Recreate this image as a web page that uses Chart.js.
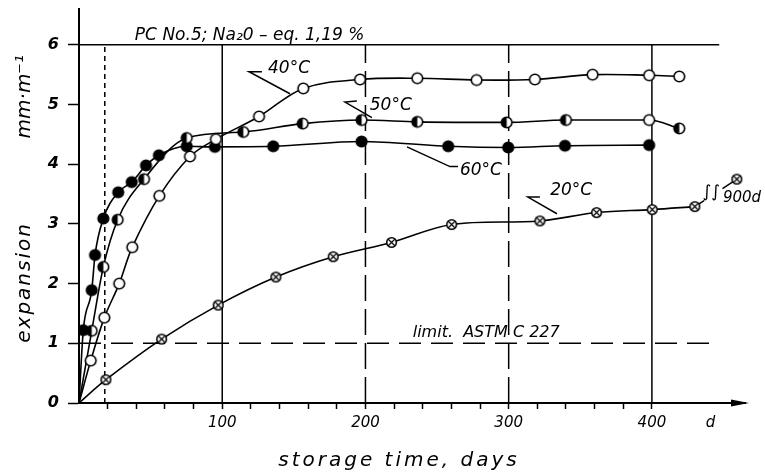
<!DOCTYPE html>
<html><head><meta charset="utf-8">
<script src="https://cdn.jsdelivr.net/npm/chart.js@4/dist/chart.umd.min.js"></script>
<style>html,body{margin:0;padding:0;background:#fff}</style>
</head><body>
<canvas id="c" width="765" height="476"></canvas>
<script>
// ---- data (days of storage, expansion in mm/m) ----
const days40 = [8.2, 17.7, 28.1, 37.2, 56.1, 77.5, 95.6, 125.7, 156.6, 196.2, 236.2, 277.6, 318.3, 358.6, 398.1, 419.1];
const exp40  = [0.71, 1.43, 2.00, 2.61, 3.47, 4.13, 4.42, 4.80, 5.27, 5.42, 5.44, 5.41, 5.42, 5.50, 5.49, 5.47];
const days50 = [8.9, 17.0, 27.0, 45.4, 75.2, 114.7, 156.2, 197.3, 236.2, 298.6, 340.0, 398.1, 419.1];
const exp50  = [1.21, 2.28, 3.07, 3.75, 4.44, 4.54, 4.68, 4.74, 4.71, 4.70, 4.74, 4.74, 4.60];
const days60 = [3.0, 8.9, 11.2, 17.0, 27.4, 36.8, 46.8, 55.8, 75.2, 94.9, 135.6, 197.3, 257.8, 299.7, 339.3, 398.1];
const exp60  = [1.22, 1.89, 2.48, 3.09, 3.53, 3.70, 3.98, 4.15, 4.30, 4.29, 4.30, 4.38, 4.30, 4.28, 4.31, 4.32];
const days20 = [18.8, 57.7, 97.2, 137.5, 177.5, 218.2, 260.2, 321.8, 361.4, 400.2, 430.0];
const exp20  = [0.39, 1.07, 1.64, 2.11, 2.45, 2.69, 2.99, 3.05, 3.19, 3.24, 3.29];
const days20late = [430.0, 459.3];   // last measured point -> 900 d value (axis break)
const exp20late  = [3.29, 3.75];

const limitASTM = 1;          // limit ASTM C 227
const topLineValue = 6;
const guideDays = [18, 100, 200, 300, 400];

const yTickValues = [0, 1, 2, 3, 4, 5, 6];
const xTickValues = [0, 20, 40, 60, 80, 100, 120, 140, 160, 180, 200, 220, 240, 260, 280, 300, 320, 340, 360, 380, 400, 441];
const xLabelValues = [100, 200, 300, 400, 441];
const xLabelTexts  = ['100', '200', '300', '400', 'd'];

const seriesNames = ['40°C', '50°C', '60°C', '20°C'];

// ---- marker images ----
function makeMarker(kind) {
  const s = 15, c = document.createElement('canvas');
  c.width = s; c.height = s;
  const g = c.getContext('2d');
  const cx = s / 2, cy = s / 2;
  const r = kind === 'cross' ? 4.8 : 5.3;
  g.lineWidth = 1.6; g.strokeStyle = '#000';
  g.beginPath(); g.arc(cx, cy, r, 0, Math.PI * 2);
  g.fillStyle = kind === 'filled' ? '#000' : '#fff'; g.fill();
  if (kind === 'half') {
    g.beginPath(); g.arc(cx, cy, r, Math.PI / 2, Math.PI * 1.5); g.closePath();
    g.fillStyle = '#000'; g.fill();
  }
  g.beginPath(); g.arc(cx, cy, r, 0, Math.PI * 2); g.stroke();
  if (kind === 'cross') {
    const k = r * 0.68; g.lineWidth = 1.2;
    g.beginPath();
    g.moveTo(cx - k, cy - k); g.lineTo(cx + k, cy + k);
    g.moveTo(cx + k, cy - k); g.lineTo(cx - k, cy + k);
    g.stroke();
  }
  return c;
}
const M = { open: makeMarker('open'), filled: makeMarker('filled'), half: makeMarker('half'), cross: makeMarker('cross') };

const toPts = (ds, vs) => [{x: 0, y: 0}].concat(ds.map((d, i) => ({x: d, y: vs[i]})));

function curve(label, ds, vs, styleFor, smooth) {
  const o = {
    label, data: toPts(ds, vs),
    borderColor: '#000', borderWidth: 1.6, fill: false,
    pointRadius: c => c.dataIndex === 0 ? 0 : 6,
    pointStyle: c => M[styleFor(c.dataIndex)],
  };
  if (smooth === 'tension') o.tension = 0.35; else o.cubicInterpolationMode = 'monotone';
  return o;
}
function refLine(pts, dash, width) {
  return { label: '', data: pts, borderColor: '#000', borderWidth: width || 1.5, borderDash: dash || [], pointRadius: 0, tension: 0, fill: false };
}

const datasets = [
  curve(seriesNames[0], days40, exp40, () => 'open', 'tension'),
  curve(seriesNames[1], days50, exp50, i => i === 12 ? 'open' : 'half'),
  curve(seriesNames[2], days60, exp60, () => 'filled'),
  curve(seriesNames[3], days20, exp20, () => 'cross', 'tension'),
  { label: '20°C (900 d)', data: days20late.map((d, i) => ({x: d, y: exp20late[i]})),
    borderColor: '#000', borderWidth: 1.5, borderDash: [11, 22, 14], tension: 0,
    pointRadius: c => c.dataIndex === 0 ? 0 : 6, pointStyle: M.cross },
  refLine([{x: 0, y: topLineValue}, {x: 447, y: topLineValue}], [], 1.6),
  refLine([{x: 0, y: limitASTM}, {x: 444, y: limitASTM}], [22, 10], 1.5),
  refLine([{x: guideDays[0], y: 0}, {x: guideDays[0], y: topLineValue}], [5, 4], 1.5),
  refLine([{x: guideDays[1], y: 0}, {x: guideDays[1], y: topLineValue}], [], 1.5),
  refLine([{x: guideDays[2], y: 0}, {x: guideDays[2], y: topLineValue}], [26, 8], 1.5),
  refLine([{x: guideDays[3], y: 0}, {x: guideDays[3], y: topLineValue}], [26, 8], 1.5),
  refLine([{x: guideDays[4], y: 0}, {x: guideDays[4], y: topLineValue}], [], 1.5),
];

// ---- annotations (data coordinates) ----
const FONT = '"DejaVu Sans"';
const annTexts = [
  { text: '40°C', d: 132, v: 5.60, font: 'italic 17px ' + FONT },
  { text: '50°C', d: 203, v: 4.99, font: 'italic 17px ' + FONT },
  { text: '60°C', d: 266, v: 3.90, font: 'italic 17px ' + FONT },
  { text: '20°C', d: 329, v: 3.55, font: 'italic 17px ' + FONT },
  { text: 'PC No.5; Na₂0 – eq. 1,19 %', d: 39, v: 6.16, font: 'italic 17px ' + FONT },
  { text: 'limit.  ASTM C 227', d: 233, v: 1.17, font: 'italic 16px ' + FONT },
  { text: '900d', d: 449.6, v: 3.44, font: 'italic 15px ' + FONT },
];
const leaders = [
  [[127.7, 5.55], [118.7, 5.55], [147.3, 5.18]],
  [[194, 5.06], [185.7, 5.04], [204.5, 4.78]],
  [[229, 4.29], [259, 3.96], [264.6, 3.96]],
  [[321.8, 3.45], [313.4, 3.45], [333.7, 3.17]],
];

const drawPlugin = {
  id: 'drawExtras',
  beforeDraw(chart) {
    const c = chart.ctx; c.save(); c.fillStyle = '#fff'; c.fillRect(0, 0, chart.width, chart.height); c.restore();
  },
  afterDraw(chart) {
    const {ctx, scales: {x, y}, chartArea: ca} = chart;
    const P = (d, v) => [x.getPixelForValue(d), y.getPixelForValue(v)];
    ctx.save();
    ctx.strokeStyle = '#000'; ctx.fillStyle = '#000'; ctx.lineWidth = 1.5;
    leaders.forEach(pts => {
      ctx.beginPath();
      pts.forEach(([d, v], i) => { const [px, py] = P(d, v); i ? ctx.lineTo(px, py) : ctx.moveTo(px, py); });
      ctx.stroke();
    });
    ctx.textBaseline = 'middle'; ctx.textAlign = 'left';
    annTexts.forEach(t => { ctx.font = t.font; const [px, py] = P(t.d, t.v); ctx.fillText(t.text, px, py); });
    // axis break symbol
    ctx.font = 'italic 17px ' + FONT;
    const [bx, by] = P(441.5, 3.52);
    ctx.textAlign = 'center';
    ctx.fillText('∫∫', bx, by);
    // x axis arrow head
    const [ax, ay] = P(x.max, 0);
    ctx.beginPath(); ctx.moveTo(ax + 4, ay); ctx.lineTo(ax - 14, ay - 3.5); ctx.lineTo(ax - 14, ay + 3.5); ctx.closePath(); ctx.fill();
    // axis titles
    ctx.font = 'italic 20px ' + FONT;
    ctx.letterSpacing = '3px';
    ctx.textAlign = 'center';
    ctx.fillText('storage time, days', ca.left + 320, ca.bottom + 58);
    ctx.letterSpacing = '2px';
    ctx.save();
    ctx.translate(ca.left - 54, y.getPixelForValue(2.02));
    ctx.rotate(-Math.PI / 2);
    ctx.fillText('expansion', 0, 0);
    ctx.restore();
    ctx.letterSpacing = '0px';
    ctx.save();
    ctx.translate(ca.left - 54, y.getPixelForValue(5.13));
    ctx.rotate(-Math.PI / 2);
    ctx.fillText('mm·m⁻¹', 0, 0);
    ctx.restore();
    ctx.restore();
  }
};

new Chart(document.getElementById('c'), {
  type: 'line',
  data: { datasets },
  options: {
    responsive: false, animation: false, events: [],
    layout: { padding: { top: 9, right: 20, left: 0, bottom: 0 } },
    plugins: { legend: { display: false }, tooltip: { enabled: false } },
    scales: {
      x: {
        type: 'linear', min: 0, max: 465,
        afterBuildTicks: s => { s.ticks = xTickValues.map(v => ({value: v})); },
        afterFit: s => { s.height = 73; s.paddingLeft = 0; s.paddingRight = 0; },
        grid: { drawOnChartArea: false, drawTicks: true, tickLength: 6, tickWidth: 1.5,
                tickColor: c => (c.tick && c.tick.value > 0 && c.tick.value <= 400) ? '#000' : 'rgba(0,0,0,0)' },
        border: { display: true, color: '#000', width: 2 },
        ticks: {
          autoSkip: false, maxRotation: 0, padding: 5, color: '#000',
          font: { family: 'DejaVu Sans', size: 15, style: 'italic' },
          callback: v => { const i = xLabelValues.indexOf(v); return i >= 0 ? xLabelTexts[i] : ''; }
        }
      },
      y: {
        type: 'linear', min: 0, max: 6.6,
        afterBuildTicks: s => { s.ticks = yTickValues.map(v => ({value: v})); },
        afterFit: s => { s.width = 79; s.paddingTop = 0; s.paddingBottom = 0; },
        grid: { drawOnChartArea: false, drawTicks: true, tickLength: 11, tickWidth: 1.5, tickColor: '#000' },
        border: { display: true, color: '#000', width: 2 },
        ticks: {
          padding: 9, color: '#000',
          font: { family: 'DejaVu Sans', size: 16, style: 'italic', weight: 'bold' },
          callback: v => String(v)
        }
      }
    }
  },
  plugins: [drawPlugin]
});
</script>
</body></html>
